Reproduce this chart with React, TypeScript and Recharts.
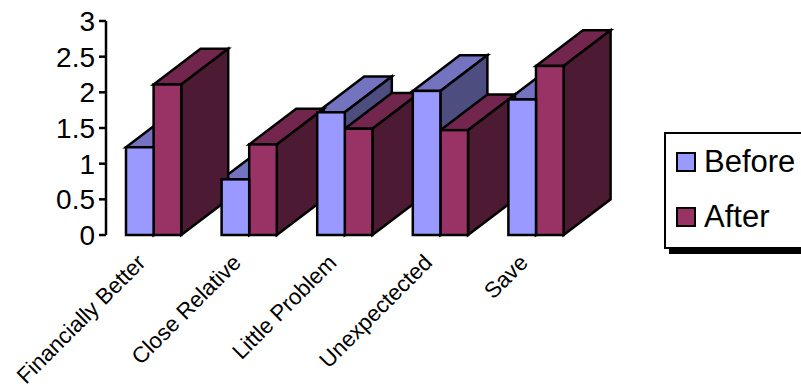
import { BarChart, Bar, XAxis, YAxis, Legend } from 'recharts'

const CATEGORIES = ['Financially Better', 'Close Relative', 'Little Problem', 'Unexpectected', 'Save']
const BEFORE = [1.23, 0.78, 1.72, 2.02, 1.9]
const AFTER = [2.11, 1.27, 1.49, 1.47, 2.37]
const Y_TICKS = [0, 0.5, 1, 1.5, 2, 2.5, 3]

const FONT = '"Liberation Sans", Arial, sans-serif'
const BAR_WIDTH = 27.6
const DEPTH_X = 47
const DEPTH_Y = 35.7

const BLUE = { front: '#9999FF', top: '#7373BF', side: '#4D4D80' }
const RED = { front: '#993366', top: '#73264D', side: '#4D1A33' }

const rows = CATEGORIES.map((name, i) => ({ name, before: BEFORE[i], after: AFTER[i] }))

type Faces = typeof BLUE
type BoxProps = { x: number; y: number; width: number; height: number }

const edge = { stroke: '#000', strokeWidth: 2.5, strokeLinejoin: 'miter' as const }

function Front({ x, y, width, height, fill }: BoxProps & { fill: string }) {
  return <rect x={x} y={y} width={width} height={height} fill={fill} {...edge} />
}

// top and right faces of the fake 3D box
function Depth({ x, y, width, height, colors }: BoxProps & { colors: Faces }) {
  const r = x + width
  const b = y + height
  return (
    <g>
      <polygon
        points={`${x},${y} ${x + DEPTH_X},${y - DEPTH_Y} ${r + DEPTH_X},${y - DEPTH_Y} ${r},${y}`}
        fill={colors.top}
        {...edge}
      />
      <polygon
        points={`${r},${y} ${r + DEPTH_X},${y - DEPTH_Y} ${r + DEPTH_X},${b - DEPTH_Y} ${r},${b}`}
        fill={colors.side}
        {...edge}
      />
    </g>
  )
}

function XTick({ x, y, payload }: any) {
  return (
    <text
      x={x - 7}
      y={y + 21}
      transform={`rotate(-45 ${x - 7} ${y + 21})`}
      textAnchor="end"
      fontFamily={FONT}
      fontSize={22.3}
      fill="#000"
    >
      {payload.value}
    </text>
  )
}

function Swatch({ color, top }: { color: string; top: number }) {
  return (
    <div
      style={{
        position: 'absolute',
        left: 10,
        top,
        width: 20,
        height: 20,
        boxSizing: 'border-box',
        background: color,
        border: '2.5px solid #000',
      }}
    />
  )
}

function LegendBox() {
  const label = {
    position: 'absolute' as const,
    left: 38,
    fontSize: 31,
    lineHeight: '30px',
    color: '#000',
  }
  return (
    <div
      style={{
        position: 'relative',
        width: 160,
        height: 117,
        boxSizing: 'border-box',
        border: '2px solid #000',
        background: '#fff',
        boxShadow: '5px 5px 0 #000',
        fontFamily: FONT,
      }}
    >
      <Swatch color={BLUE.front} top={18} />
      <div style={{ ...label, top: 13 }}>Before</div>
      <Swatch color={RED.front} top={73} />
      <div style={{ ...label, top: 68 }}>After</div>
    </div>
  )
}

export default function App() {
  return (
    <div style={{ position: 'absolute', left: 0, top: 0, width: 801, height: 385, overflow: 'hidden', background: '#fff' }}>
      <BarChart
        width={801}
        height={385}
        data={rows}
        barSize={BAR_WIDTH}
        barGap={0}
        margin={{ top: 21, right: 217, bottom: 0, left: 0 }}
      >
        <XAxis dataKey="name" height={150} axisLine={false} tickLine={false} tick={XTick} interval={0} />
        {/* second axis only so the blue fronts can paint above the red boxes of the previous group */}
        <XAxis xAxisId="fronts" dataKey="name" hide />
        <YAxis
          width={106}
          domain={[0, 3]}
          ticks={Y_TICKS}
          interval={0}
          tickSize={7}
          tickMargin={4}
          stroke="#000"
          strokeWidth={2.5}
          tick={{ fontFamily: FONT, fontSize: 28, fill: '#000' }}
        />
        <YAxis yAxisId="fronts" domain={[0, 3]} hide />
        <Bar
          dataKey="before"
          isAnimationActive={false}
          shape={(p: any) => <Depth x={p.x} y={p.y} width={p.width} height={p.height} colors={BLUE} />}
        />
        <Bar
          dataKey="after"
          isAnimationActive={false}
          shape={(p: any) => (
            <g>
              <Depth x={p.x} y={p.y} width={p.width} height={p.height} colors={RED} />
              <Front x={p.x} y={p.y} width={p.width} height={p.height} fill={RED.front} />
            </g>
          )}
        />
        <Bar
          xAxisId="fronts"
          yAxisId="fronts"
          dataKey="before"
          isAnimationActive={false}
          shape={(p: any) => <Front x={p.x} y={p.y} width={p.width} height={p.height} fill={BLUE.front} />}
        />
        <Bar xAxisId="fronts" yAxisId="fronts" dataKey="after" isAnimationActive={false} shape={() => <g />} />
        <Legend
          layout="horizontal"
          verticalAlign="middle"
          align="center"
          wrapperStyle={{ left: 664, top: 132, width: 160 }}
          content={() => <LegendBox />}
        />
      </BarChart>
    </div>
  )
}
